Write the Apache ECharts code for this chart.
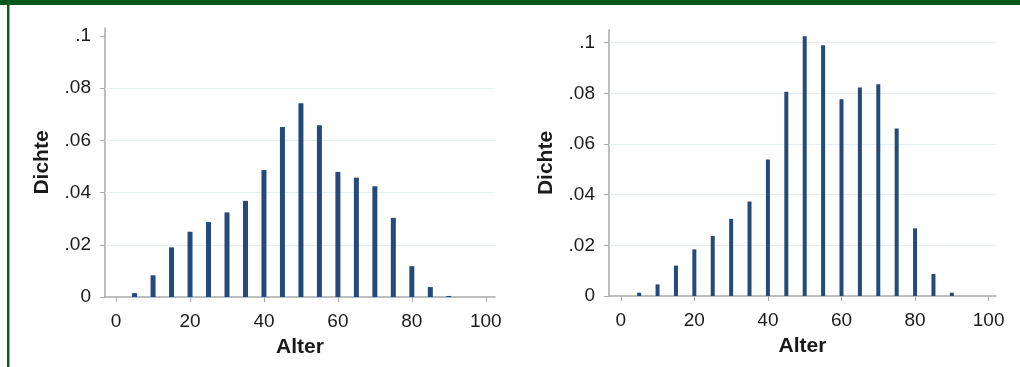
<!DOCTYPE html>
<html>
<head>
<meta charset="utf-8">
<script src="https://cdn.jsdelivr.net/npm/echarts@6/dist/echarts.min.js"></script>
<style>
html,body{margin:0;padding:0;background:#fff;}
#c{width:1020px;height:367px;}
</style>
</head>
<body>
<div id="c"></div>
<script>
// Data
const ages = [5,10,15,20,25,30,35,40,45,50,55,60,65,70,75,80,85,90];
const densityLeft = [0.0015,0.0083,0.019,0.025,0.0287,0.0324,0.0368,0.0486,0.0651,0.0742,0.0658,0.0479,0.0457,0.0424,0.0303,0.0118,0.0038,0.0004];
const densityRight = [0.0013,0.0046,0.012,0.0184,0.0237,0.0304,0.0373,0.0539,0.0806,0.1025,0.099,0.0777,0.0823,0.0836,0.0661,0.0267,0.0087,0.0013];
const xTicks = [0,20,40,60,80,100];
const yTicks = [0,0.02,0.04,0.06,0.08,0.1];
const gridYLeft = [0.02,0.04,0.06,0.08];
const gridYRight = [0.02,0.04,0.06,0.08,0.1];
const xTitle = 'Alter';
const yTitle = 'Dichte';

const axisGrey = '#a9a9a9';
const barColor = '#234a7b';
const gridColor = '#e4eef3';
const font = "'Liberation Sans', Arial, Helvetica, sans-serif";

function yFmt(v){ if (v === 0) return '0'; return '.' + String(v).split('.')[1]; }

function xAxisCfg(idx, min, max){
  return {
    type:'value', gridIndex: idx, min:min, max:max,
    name: xTitle, nameLocation:'middle', nameGap: 40,
    nameTextStyle:{fontFamily:font, fontSize:21, fontWeight:'bold', color:'#1a1a1a'},
    axisLine:{show:true, onZero:false, lineStyle:{color:axisGrey, width:1.5}},
    axisTick:{show:true, length:5, customValues: xTicks, lineStyle:{color:axisGrey}},
    axisLabel:{customValues: xTicks, margin:15, fontFamily:font, fontSize:19, color:'#1a1a1a'},
    splitLine:{show:false}
  };
}
function yAxisCfg(idx, max){
  return {
    type:'value', gridIndex: idx, min:0, max:max,
    name: yTitle, nameLocation:'middle', nameGap: 52, nameRotate: 90,
    nameTextStyle:{fontFamily:font, fontSize:21, fontWeight:'bold', color:'#1a1a1a'},
    axisLine:{show:true, onZero:false, lineStyle:{color:axisGrey, width:1.5}},
    axisTick:{show:true, length:5, customValues: yTicks, lineStyle:{color:axisGrey}},
    axisLabel:{customValues: yTicks, margin:14, fontFamily:font, fontSize:19, color:'#1a1a1a', formatter: yFmt},
    splitLine:{show:false}
  };
}
function barSeries(idx, vals, w, gridVals){
  return {
    type:'bar', xAxisIndex: idx, yAxisIndex: idx, barWidth: w,
    itemStyle:{color: barColor},
    data: ages.map((a,i)=>[a, vals[i]]),
    silent:true, z:3,
    markLine:{
      silent:true, symbol:'none', label:{show:false},
      lineStyle:{color:gridColor, type:'solid', width:1.2},
      data: gridVals.map(v=>({yAxis:v})),
      z:1
    }
  };
}

const chart = echarts.init(document.getElementById('c'), null, {renderer:'canvas'});
chart.setOption({
  animation:false,
  backgroundColor:'#ffffff',
  grid:[
    {left:105, top:28, width:390, bottom:70},
    {left:609, top:30, width:387, bottom:71}
  ],
  xAxis:[ xAxisCfg(0, -3, 102.5), xAxisCfg(1, -3.2, 102) ],
  yAxis:[ yAxisCfg(0, 0.103), yAxisCfg(1, 0.105) ],
  series:[ barSeries(0, densityLeft, 5, gridYLeft), barSeries(1, densityRight, 4, gridYRight) ],
  graphic:[
    {type:'rect', shape:{x:0, y:0, width:1020, height:5}, style:{fill:'#07571c'}, silent:true},
    {type:'rect', shape:{x:7, y:0, width:2.5, height:367}, style:{fill:'#0b5e20'}, silent:true}
  ]
});
</script>
</body>
</html>
